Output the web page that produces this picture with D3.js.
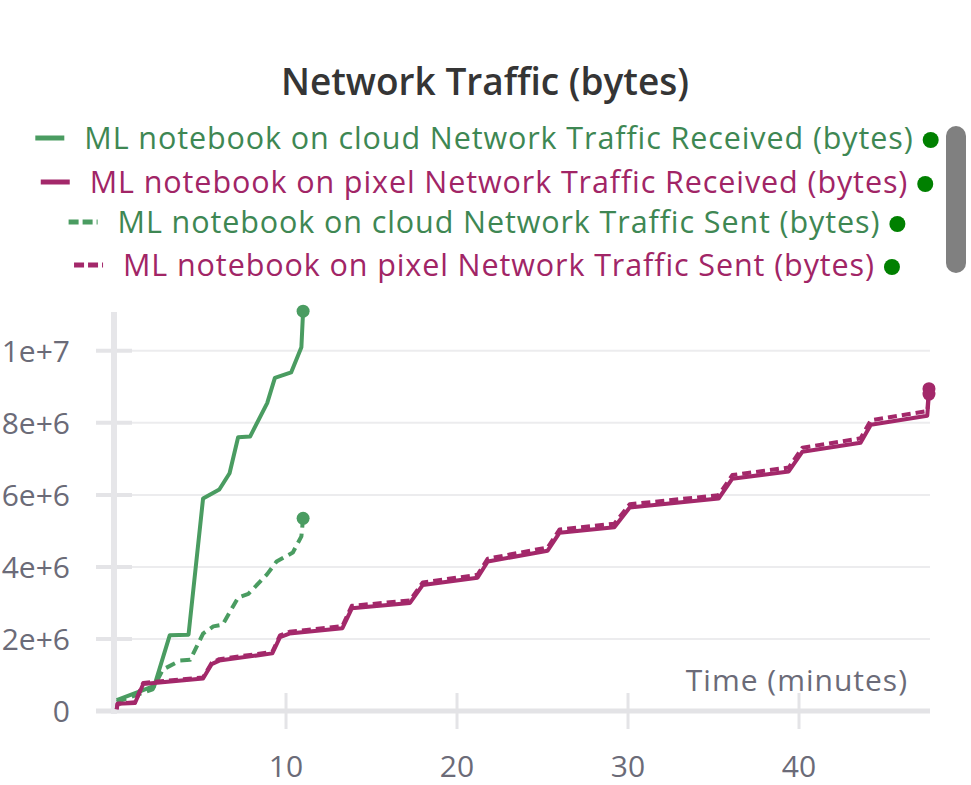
<!DOCTYPE html>
<html>
<head>
<meta charset="utf-8">
<script src="https://cdn.jsdelivr.net/npm/d3@7"></script>
<style>
  body { margin: 0; background: #fff; }
  svg { display: block; font-family: "Open Sans", Lato, sans-serif; }
</style>
</head>
<body>
<svg></svg>
<script>
var WIDTH = 971;
var HEIGHT = 785;

// minutes / bytes (millions)
var cloudRecvTime = [0.1, 2.3, 3.2, 4.3, 5.15, 6.1, 6.7, 7.2, 7.9, 8.9, 9.35, 10.3, 10.9, 11.0];
var cloudRecvVal  = [0.3, 0.7, 2.1, 2.12, 5.9, 6.15, 6.6, 7.6, 7.62, 8.55, 9.25, 9.4, 10.1, 11.1];

var cloudSentTime = [0.1, 2.2, 2.8, 3.8, 4.4, 5.15, 5.75, 6.3, 7.2, 7.8, 8.9, 9.45, 10.4, 10.9, 11.0];
var cloudSentVal  = [0.25, 0.6, 1.15, 1.4, 1.42, 2.15, 2.35, 2.4, 3.15, 3.25, 3.8, 4.15, 4.4, 4.85, 5.35];

var pixelTime = [0.1, 0.15, 1.17, 1.65, 5.15, 5.65, 6.1, 9.2, 9.65, 10.2, 13.3, 13.85, 17.25, 18.0,
                 21.2, 21.8, 25.3, 26.0, 29.2, 30.1, 35.3, 36.1, 39.4, 40.2, 43.6, 44.2, 47.5, 47.6];
var pixelRecvVal = [0.05, 0.2, 0.22, 0.75, 0.9, 1.3, 1.4, 1.6, 2.05, 2.15, 2.3, 2.85, 3.0, 3.5,
                    3.7, 4.15, 4.45, 4.95, 5.1, 5.65, 5.9, 6.45, 6.65, 7.2, 7.45, 7.95, 8.2, 8.8];
var pixelSentVal = [0.05, 0.2, 0.24, 0.78, 0.93, 1.33, 1.44, 1.64, 2.1, 2.2, 2.36, 2.92, 3.07, 3.57,
                    3.78, 4.23, 4.54, 5.04, 5.2, 5.74, 5.99, 6.55, 6.76, 7.31, 7.57, 8.07, 8.33, 8.95];

var legendNames = [
  'ML notebook on cloud Network Traffic Received (bytes)',
  'ML notebook on pixel Network Traffic Received (bytes)',
  'ML notebook on cloud Network Traffic Sent (bytes)',
  'ML notebook on pixel Network Traffic Sent (bytes)'
];
var yTicks = [0, 2e6, 4e6, 6e6, 8e6, 1e7];
var yTickLabels = ['0', '2e+6', '4e+6', '6e+6', '8e+6', '1e+7'];
var xTicks = [10, 20, 30, 40];

var GREEN = '#4a9c61';
var MAGENTA = '#a3286a';
var GREEN_TEXT = '#3e8753';
var MAGENTA_TEXT = '#a12566';

function zip(ts, vs) {
  return ts.map(function(t, i) { return { t: t, v: vs[i] * 1e6 }; });
}

var series = [
  { data: zip(cloudRecvTime, cloudRecvVal), color: GREEN, dash: null },
  { data: zip(cloudSentTime, cloudSentVal), color: GREEN, dash: '10,6' },
  { data: zip(pixelTime, pixelSentVal), color: MAGENTA, dash: '9,5' },
  { data: zip(pixelTime, pixelRecvVal), color: MAGENTA, dash: null }
];

var svg = d3.select('svg')
  .attr('width', WIDTH)
  .attr('height', HEIGHT);

var xScale = d3.scaleLinear().domain([0, 47.66]).range([115, 930]);
var yScale = d3.scaleLinear().domain([0, 11.05e6]).range([711, 313]);

// title
svg.append('text')
  .attr('x', 485).attr('y', 95)
  .attr('text-anchor', 'middle')
  .style('font-size', '37px').style('font-weight', 600)
  .style('fill', '#353535')
  .text('Network Traffic (bytes)');

// legend
var legendRows = [
  { y: 138, color: GREEN, text: GREEN_TEXT, dash: null },
  { y: 182, color: MAGENTA, text: MAGENTA_TEXT, dash: null },
  { y: 222, color: GREEN, text: GREEN_TEXT, dash: '10,4' },
  { y: 265, color: MAGENTA, text: MAGENTA_TEXT, dash: '10,4' }
];
legendRows.forEach(function(row, i) {
  var g = svg.append('g');
  var label = g.append('text')
    .attr('y', row.y + 11)
    .style('font-size', '30.5px')
    .style('letter-spacing', '0.9px')
    .style('fill', row.text)
    .text(legendNames[i]);
  var w = label.node().getComputedTextLength();
  var total = 29 + 20 + w + 17 + 8;
  var x0 = 487 - total / 2;
  g.append('line')
    .attr('x1', x0).attr('x2', x0 + 29)
    .attr('y1', row.y).attr('y2', row.y)
    .attr('stroke', row.color).attr('stroke-width', 5)
    .attr('stroke-dasharray', row.dash);
  label.attr('x', x0 + 49);
  g.append('circle')
    .attr('cx', x0 + 49 + w + 17).attr('cy', row.y + 2)
    .attr('r', 8).attr('fill', '#008000');
});

// scrollbar
svg.append('rect')
  .attr('x', 946).attr('y', 126).attr('width', 20).attr('height', 147)
  .attr('rx', 10).attr('fill', '#808080');

// grid + y ticks
svg.selectAll('.grid').data(yTicks.slice(1)).enter()
  .append('line').attr('class', 'grid')
  .attr('x1', 96).attr('x2', 930)
  .attr('y1', function(d) { return yScale(d); })
  .attr('y2', function(d) { return yScale(d); })
  .attr('stroke', '#ececee').attr('stroke-width', 2);
svg.selectAll('.ytick').data(yTicks.slice(1)).enter()
  .append('line').attr('class', 'ytick')
  .attr('x1', 96).attr('x2', 132)
  .attr('y1', function(d) { return yScale(d); })
  .attr('y2', function(d) { return yScale(d); })
  .attr('stroke', '#e4e4e7').attr('stroke-width', 4);

svg.selectAll('.ylabel').data(yTicks).enter()
  .append('text').attr('class', 'ylabel')
  .attr('x', 70)
  .attr('y', function(d) { return yScale(d) + 11; })
  .attr('text-anchor', 'end')
  .style('font-size', '30px').style('fill', '#6b6b78')
  .text(function(d, i) { return yTickLabels[i]; });

// x ticks
svg.selectAll('.xtick').data(xTicks).enter()
  .append('line').attr('class', 'xtick')
  .attr('x1', function(d) { return xScale(d); })
  .attr('x2', function(d) { return xScale(d); })
  .attr('y1', 693).attr('y2', 729)
  .attr('stroke', '#e4e4e7').attr('stroke-width', 3);
svg.selectAll('.xlabel').data(xTicks).enter()
  .append('text').attr('class', 'xlabel')
  .attr('x', function(d) { return xScale(d); })
  .attr('y', 777)
  .attr('text-anchor', 'middle')
  .style('font-size', '30px').style('fill', '#6b6b78')
  .text(function(d) { return d; });

// axis lines
svg.append('line')
  .attr('x1', 96).attr('x2', 930).attr('y1', 711).attr('y2', 711)
  .attr('stroke', '#e3e3e6').attr('stroke-width', 5);
svg.append('line')
  .attr('x1', 114).attr('x2', 114).attr('y1', 312).attr('y2', 714)
  .attr('stroke', '#e6e6e9').attr('stroke-width', 6);

svg.append('text')
  .attr('x', 908).attr('y', 691)
  .attr('text-anchor', 'end')
  .style('font-size', '30px').style('letter-spacing', '1px')
  .style('fill', '#6b6b78')
  .text('Time (minutes)');

// lines
var line = d3.line()
  .x(function(d) { return xScale(d.t); })
  .y(function(d) { return yScale(d.v); });

series.forEach(function(s) {
  svg.append('path')
    .datum(s.data)
    .attr('d', line)
    .attr('fill', 'none')
    .attr('stroke', s.color)
    .attr('stroke-width', 4)
    .attr('stroke-linejoin', 'round')
    .attr('stroke-dasharray', s.dash);
  var last = s.data[s.data.length - 1];
  svg.append('circle')
    .attr('cx', xScale(last.t)).attr('cy', yScale(last.v))
    .attr('r', 6.5).attr('fill', s.color);
});
</script>
</body>
</html>
